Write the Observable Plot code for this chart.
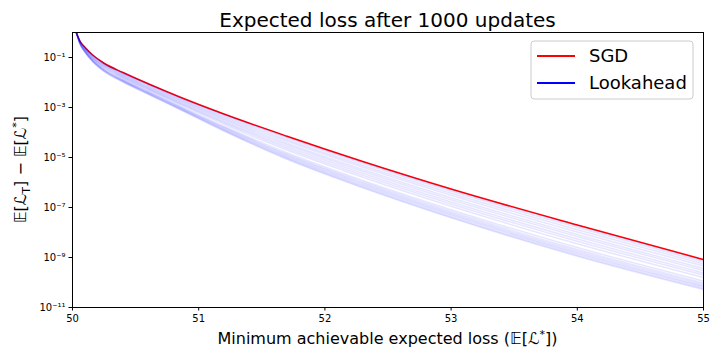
<!DOCTYPE html>
<html><head><meta charset="utf-8">
<script src="https://cdn.jsdelivr.net/npm/d3@7"></script>
<script src="https://cdn.jsdelivr.net/npm/@observablehq/plot@0.6"></script>
<style>
body{margin:0;background:#fff;}
svg{font-family:"DejaVu Sans",sans-serif;}
</style>
</head><body><div id="chart"></div>
<script>
// Minimum achievable expected loss (x positions of samples)
const xs = [50.03, 50.06, 50.1, 50.16, 50.25, 50.4, 50.6, 50.85, 51.2, 51.7, 52.3, 53, 54, 55];
// log10 of expected loss gap, SGD
const sgdExp = [0, -0.35, -0.60, -0.90, -1.23, -1.60, -2.05, -2.58, -3.26, -4.15, -5.16, -6.26, -7.70, -9.08];
// log10 of expected loss gap, Lookahead runs (one row per run)
const lookaheadExp = [
  [0, -0.35, -0.61, -0.91, -1.24, -1.61, -2.06, -2.60, -3.28, -4.18, -5.19, -6.30, -7.74, -9.12],
  [0, -0.36, -0.62, -0.92, -1.26, -1.63, -2.08, -2.62, -3.31, -4.22, -5.24, -6.35, -7.80, -9.18],
  [0, -0.37, -0.63, -0.94, -1.28, -1.66, -2.11, -2.66, -3.36, -4.29, -5.32, -6.43, -7.89, -9.26],
  [0, -0.38, -0.64, -0.96, -1.30, -1.68, -2.14, -2.69, -3.41, -4.35, -5.39, -6.51, -7.98, -9.34],
  [0, -0.39, -0.66, -0.98, -1.33, -1.71, -2.18, -2.73, -3.46, -4.43, -5.48, -6.61, -8.08, -9.44],
  [0, -0.39, -0.67, -1.00, -1.35, -1.74, -2.21, -2.77, -3.51, -4.49, -5.55, -6.69, -8.16, -9.52],
  [0, -0.40, -0.69, -1.02, -1.38, -1.77, -2.24, -2.81, -3.57, -4.56, -5.63, -6.78, -8.26, -9.62],
  [0, -0.41, -0.70, -1.04, -1.40, -1.80, -2.27, -2.84, -3.61, -4.63, -5.71, -6.86, -8.35, -9.70],
  [0, -0.42, -0.72, -1.06, -1.43, -1.83, -2.30, -2.88, -3.67, -4.70, -5.79, -6.95, -8.45, -9.80],
  [0, -0.44, -0.74, -1.09, -1.47, -1.87, -2.35, -2.94, -3.75, -4.81, -5.92, -7.09, -8.60, -9.94],
  [0, -0.44, -0.76, -1.11, -1.49, -1.90, -2.38, -2.97, -3.79, -4.87, -5.98, -7.16, -8.68, -10.02],
  [0, -0.45, -0.77, -1.12, -1.50, -1.92, -2.40, -3.00, -3.82, -4.91, -6.03, -7.22, -8.74, -10.08],
  [0, -0.46, -0.78, -1.14, -1.52, -1.93, -2.42, -3.02, -3.86, -4.96, -6.08, -7.27, -8.80, -10.14],
  [0, -0.46, -0.78, -1.15, -1.53, -1.95, -2.44, -3.04, -3.89, -5.00, -6.13, -7.32, -8.85, -10.18],
  [0, -0.47, -0.79, -1.16, -1.55, -1.97, -2.46, -3.06, -3.92, -5.04, -6.18, -7.38, -8.91, -10.24],
  [0, -0.47, -0.80, -1.17, -1.56, -1.98, -2.47, -3.08, -3.94, -5.07, -6.21, -7.41, -8.95, -10.28]
];
const xTicks = [50, 51, 52, 53, 54, 55];
const yTickExps = [-11, -9, -7, -5, -3, -1];
const seriesNames = ["SGD", "Lookahead"];
const seriesColors = ["#ff0000", "#0000ff"];
const titleText = "Expected loss after 1000 updates";

const sgdData = xs.map((x, i) => ({x, y: Math.pow(10, sgdExp[i])}));
const laData = lookaheadExp.flatMap((row, k) => row.map((e, i) => ({x: xs[i], y: Math.pow(10, e), run: k})));

const supMap = {"-": "\u207B", "0": "\u2070", "1": "\u00B9", "2": "\u00B2", "3": "\u00B3", "4": "\u2074", "5": "\u2075", "6": "\u2076", "7": "\u2077", "8": "\u2078", "9": "\u2079"};
const toSup = n => String(n).split("").map(c => supMap[c]).join("");

const chart = Plot.plot({
  width: 720, height: 360,
  marginTop: 32, marginRight: 17, marginBottom: 53, marginLeft: 72,
  style: {fontFamily: "DejaVu Sans, sans-serif", fontSize: "10px", color: "#000", background: "#fff"},
  x: {domain: [50, 55], ticks: xTicks, tickFormat: d => String(d), tickSize: 3.5, tickPadding: 3.5, label: null},
  y: {type: "log", domain: [1e-11, 1], ticks: yTickExps.map(e => Math.pow(10, e)),
      tickFormat: d => "10" + toSup(Math.round(Math.log10(d))), tickSize: 3.5, tickPadding: 3.5, label: null},
  marks: [
    Plot.line(sgdData, {x: "x", y: "y", stroke: seriesColors[0], strokeWidth: 1.5, curve: "monotone-x", clip: true}),
    Plot.line(laData, {x: "x", y: "y", z: "run", stroke: seriesColors[1], strokeOpacity: 0.1, strokeWidth: 1.5, curve: "monotone-x", clip: true}),
    Plot.frame({stroke: "#000", strokeWidth: 1})
  ]
});
document.getElementById("chart").appendChild(chart);

const svg = d3.select(chart);
const font = "DejaVu Sans, sans-serif";
// title
svg.append("text").attr("x", 387.5).attr("y", 27).attr("text-anchor", "middle")
  .attr("font-family", font).attr("font-size", 20).attr("fill", "#000").text(titleText);
// x label
const xl = svg.append("text").attr("x", 387.5).attr("y", 344).attr("text-anchor", "middle")
  .attr("font-family", font).attr("font-size", 16).attr("fill", "#000");
xl.append("tspan").text("Minimum achievable expected loss (\uD835\uDD3C[\u2112");
xl.append("tspan").attr("dy", -6).attr("font-size", 11).text("*");
xl.append("tspan").attr("dy", 6).text("])");
// y label
const yl = svg.append("text").attr("transform", "translate(26,169.5) rotate(-90)").attr("text-anchor", "middle")
  .attr("font-family", font).attr("font-size", 16).attr("fill", "#000");
yl.append("tspan").text("\uD835\uDD3C[\u2112");
yl.append("tspan").attr("dy", 4).attr("font-size", 11).text("T");
yl.append("tspan").attr("dy", -4).text("] \u2212 \uD835\uDD3C[\u2112");
yl.append("tspan").attr("dy", -6).attr("font-size", 11).text("*");
yl.append("tspan").attr("dy", 6).text("]");
// legend
const lg = svg.append("g");
lg.append("rect").attr("x", 531).attr("y", 41).attr("width", 162).attr("height", 58).attr("rx", 3)
  .attr("fill", "#fff").attr("fill-opacity", 0.8).attr("stroke", "#cccccc").attr("stroke-width", 1);
seriesNames.forEach((name, i) => {
  const yy = 56 + i * 27;
  lg.append("line").attr("x1", 537).attr("x2", 575).attr("y1", yy).attr("y2", yy)
    .attr("stroke", seriesColors[i]).attr("stroke-width", 2);
  lg.append("text").attr("x", 589).attr("y", yy).attr("dy", "0.35em").attr("text-anchor", "start")
    .attr("font-family", font).attr("font-size", 18).attr("fill", "#000").text(name);
});
</script>
</body></html>
